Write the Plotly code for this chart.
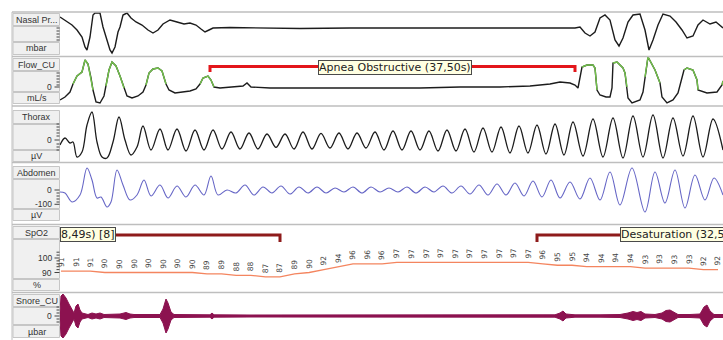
import plotly.graph_objects as go

# ================= data (time in s) =================
NASAL_T = [0.0, 0.3, 0.7, 1.2, 1.7, 2.2, 2.5, 2.7, 3.0, 3.3, 3.5, 4.0, 4.3, 4.7, 5.0, 5.2, 5.5, 5.8, 6.0, 6.3,
           6.7, 7.1, 7.6, 8.2, 8.8, 9.3, 9.8, 10.3, 11.0, 11.7, 12.4, 13.0, 13.6, 14.1, 14.5, 14.9, 15.3, 17.0, 20.0, 24.0,
           29.0, 34.0, 39.0, 44.0, 49.0, 51.5, 52.0, 52.5, 53.0, 53.5, 54.0, 54.5, 55.0, 55.5, 55.9, 56.3, 56.8, 57.3, 58.0, 58.5,
           58.9, 59.3, 59.8, 60.3, 61.0, 61.6, 62.2, 62.7, 63.3, 63.8, 64.3, 65.0, 65.6, 66.3]
NASAL_V = [1.1, 0.9, 0.6, 0.3, -0.2, -0.9, -1.9, -2.2, -0.9, 1.3, 1.5, 1.5, 0.1, -1.2, -2.2, -2.5, -1.9, -0.4, 0.1, 1.3,
           1.5, 1.0, 0.6, 0.3, -0.2, -0.5, -0.2, 0.4, 0.8, 0.6, 0.4, 0.5, 0.3, -0.1, -0.4, -0.2, 0.0, 0.05, 0.0, -0.05,
           0.0, 0.0, -0.05, 0.0, 0.0, 0.0, 0.1, -0.5, -0.8, -0.4, 1.0, 1.3, 0.8, -1.2, -1.8, -1.0, 0.6, 1.3, 1.4, -0.2,
           -2.2, -1.2, 0.3, 1.4, 1.2, 0.6, -0.2, -1.0, -0.8, 0.3, 0.8, 0.4, 0.6, 0.0]

FLOW_T = [0.0, 0.5, 1.0, 1.3, 1.7, 2.2, 2.5, 2.8, 3.1, 3.3, 3.6, 4.0, 4.4, 4.6, 4.9, 5.2, 5.6, 6.0, 6.4, 6.7,
          7.2, 7.8, 8.3, 8.6, 8.9, 9.3, 9.8, 10.2, 10.6, 10.9, 11.5, 12.2, 13.0, 13.6, 14.0, 14.3, 14.8, 15.1, 15.4, 16.0,
          17.5, 18.3, 18.7, 19.1, 21.0, 24.0, 28.0, 32.0, 36.0, 40.0, 44.0, 47.0, 49.0, 50.0, 51.0, 51.5, 51.8, 52.2, 52.7, 53.3,
          53.5, 53.7, 54.0, 54.6, 55.0, 55.2, 55.3, 55.7, 56.3, 56.5, 56.7, 56.8, 57.2, 58.0, 58.3, 58.5, 58.8, 59.5, 60.0, 60.2,
          60.7, 61.3, 61.8, 62.4, 62.7, 63.3, 63.7, 63.8, 64.7, 65.7, 66.2, 66.3]
FLOW_V = [-130, -100, -50, 30, 110, 150, 270, 230, 90, -30, -150, -160, -90, 10, 170, 250, 210, 110, -10, -90,
          -110, -90, -50, 20, 140, 180, 190, 160, 30, -30, -60, -50, -40, -20, 30, 90, 110, 70, 0, -10,
          0, 10, 40, 0, -10, -10, -10, -10, -10, 0, 0, 10, 30, 50, 40, 20, -10, 200, 220, 220,
          190, -30, -80, -100, -100, -10, 240, 250, 190, 140, 0, -110, -160, -130, -50, 100, 300, 170, 40, -100,
          -160, -130, -60, 170, 190, 170, 70, -30, -60, -50, 20, 60]
# inspiration intervals highlighted in green
FLOW_INSP = [(1.3, 3.3), (4.6, 6.4), (8.6, 10.6), (14.0, 15.4), (52.2, 53.7),
             (55.3, 56.7), (58.5, 60.0), (62.4, 63.8), (66.2, 66.3)]

THORAX_T = [0.0, 0.5, 1.0, 1.3, 1.7, 2.2, 2.7, 3.2, 3.7, 4.2, 4.7, 5.3, 5.9, 6.5, 7.1, 7.7, 8.3, 9.1, 10.0, 10.8,
            11.7, 12.6, 13.5, 14.4, 15.3, 16.2, 17.1, 18.0, 18.9, 19.8, 20.7, 21.6, 22.5, 23.4, 24.3, 25.2, 26.1, 27.0, 27.9, 28.8,
            29.7, 30.6, 31.5, 32.4, 33.3, 34.2, 35.1, 36.0, 36.9, 37.8, 38.7, 39.6, 40.5, 41.4, 42.3, 43.2, 44.1, 45.0, 45.9, 46.8,
            47.7, 48.6, 49.5, 50.4, 51.3, 52.3, 53.3, 54.3, 55.3, 56.3, 57.3, 58.3, 59.3, 60.3, 61.3, 62.3, 63.3, 64.3, 65.3, 66.3]
THORAX_V = [-15, 6, -9, -6, -51, -36, 45, 84, -6, -51, -54, -6, 69, 0, -45, -21, 42, -30, 33, -30,
            33, -33, 30, -30, 30, -27, 24, -27, 21, -27, 18, -22, 18, -27, 24, -27, 20, -24, 21, -27,
            21, -24, 24, -30, 27, -30, 27, -30, 27, -33, 30, -33, 33, -36, 36, -36, 39, -39, 42, -39,
            45, -42, 48, -45, 54, -48, 63, -51, 66, -54, 72, -51, 75, -54, 66, -48, 72, -51, 63, -30]

ABDOMEN_T = [0.0, 0.5, 1.2, 2.0, 2.7, 3.2, 3.7, 4.1, 4.7, 5.1, 5.7, 6.3, 7.0, 7.7, 8.4, 9.1, 10.0, 10.8, 11.7, 12.6,
             13.5, 14.4, 15.1, 15.8, 16.7, 17.6, 18.5, 19.4, 20.3, 21.2, 22.1, 23.0, 23.9, 24.8, 25.7, 26.6, 27.5, 28.4, 29.3, 30.2,
             31.1, 32.0, 32.9, 33.8, 34.7, 35.6, 36.5, 37.4, 38.3, 39.2, 40.1, 41.0, 41.9, 42.8, 43.7, 44.6, 45.5, 46.4, 47.3, 48.2,
             49.1, 50.0, 51.0, 52.0, 53.0, 54.0, 55.0, 56.0, 57.2, 58.5, 59.5, 60.5, 61.5, 62.5, 63.5, 64.5, 65.4, 66.3]
ABDOMEN_V = [-14, -21, -84, -35, 154, 70, -56, -49, -119, -84, 140, 35, -70, -35, 70, -42, 35, -56, 28, -49,
             35, -35, 98, -35, 0, -21, 35, -35, 21, -21, 28, -28, 21, -21, 21, -21, 14, -14, 21, -21,
             21, -14, 14, -14, 21, -21, 21, -14, 28, -21, 28, -28, 35, -35, 42, -35, 49, -42, 63, -49,
             70, -56, 56, -63, 84, -70, 126, -105, 154, -154, 126, -91, 140, -126, 105, -70, 84, -35]

SPO2_V = [91, 91, 91, 90, 90, 90, 90, 90, 90, 90, 89, 89, 88, 88, 87, 87, 89, 90, 92, 94, 96, 96, 96,
          97, 97, 97, 97, 97, 97, 97, 97, 97, 97, 96, 95, 95, 94, 94, 94, 94, 93, 93, 93, 93, 92, 92]
SPO2_T0 = 0.1
SPO2_DT = 1.46

SNORE_T = [0.0, 0.1, 0.3, 0.6, 0.9, 1.2, 1.4, 1.6, 1.8, 2.0, 2.2, 2.8, 3.2, 3.6, 4.0, 4.4, 5.0, 6.0, 6.6, 7.0,
           7.4, 8.0, 9.0, 10.0, 10.3, 10.6, 10.8, 11.1, 11.4, 13.0, 15.0, 15.2, 15.4, 19.0, 24.0, 34.0, 44.0, 49.5, 50.0, 50.3,
           50.6, 51.5, 54.0, 56.0, 56.8, 57.3, 57.7, 58.1, 58.5, 59.5, 60.2, 60.6, 61.0, 61.4, 61.8, 63.0, 64.0, 64.4, 64.7, 65.0,
           65.4, 66.3]
SNORE_AMP = [4, 20, 22, 18, 12, 6, 3, 10, 12, 6, 3, 1.5, 3, 2, 3, 1.5, 1.5, 2, 3.5, 2,
             1.5, 1.5, 1.5, 1.5, 7, 17, 13, 4, 1.5, 1.2, 1.2, 3, 1.2, 1, 1, 1, 1, 1.2, 3, 5,
             2, 1.2, 1.2, 1.5, 3, 4.5, 3.5, 4.5, 2, 1.5, 3, 5.5, 6, 4, 1.5, 1.5, 2, 9, 11, 5,
             1.5, 1.5]

APNEA_START, APNEA_END = 15.0, 51.5
APNEA_LABEL = "Apnea Obstructive (37,50s)"
DESAT_EVENTS = [(-2.0, 22.0, "8,49s) [8]"), (47.7, 70.0, "Desaturation (32,5")]

CHANNELS = ["Nasal Pr...", "Flow_CU", "Thorax", "Abdomen", "SpO2", "Snore_CU"]
UNITS = ["mbar", "mL/s", "µV", "µV", "%", "µbar"]
TICK_LABELS = [[], [(0, "0")], [(0, "0")], [(0, "0"), (-100, "-100")], [(100, "100"), (90, "90")], [(0, "0")]]
TICK_LADDER = [[-1.2, -0.9, -0.6, -0.3, 0.0],
               [20, 50, 80, 110, 140],
               [-30, -21, -12, 12, 21, 30, 39, 48],
               [-21, -42, -63, -84],
               [92, 94, 96, 98, 102, 104],
               [-6, -3, 3, 6, 9]]

# ================= layout geometry (pixels) =================
W, H = 723, 340
PLOT_X0 = 60
T_RANGE = [0, 66.3]
ROWS = [
    dict(top=12, bot=56, name=(13, 26), mid=(26, 42), unit=(42, 55), rng=[-2.8, 1.6]),
    dict(top=57, bot=105, name=(58, 71), mid=(71, 92), unit=(92, 104), rng=[-180, 300]),
    dict(top=107, bot=162, name=(110, 124), mid=(124, 150), unit=(150, 162), rng=[-66, 99]),
    dict(top=163, bot=224, name=(166, 179), mid=(179, 209), unit=(209, 221), rng=[-238, 189]),
    dict(top=225, bot=292, name=(226, 239), mid=(239, 279), unit=(279, 291), rng=[76.55, 122.76]),
    dict(top=293, bot=340, name=(294, 307), mid=(307, 325), unit=(325, 338), rng=[-24, 23]),
]
APNEA_LEVEL, APNEA_TICK = 205, 150
DESAT_LEVEL, DESAT_TICK = 115.9, 111.0
DESAT_LABEL_T = [0.0, 56.0]
LABEL_FONT = "Liberation Sans"
EVENT_FONT = "DejaVu Sans"


def pxx(p):
    return p / W


def pxy(p):
    return 1 - p / H


fig = go.Figure()
YREF = ["y", "y2", "y3", "y4", "y5", "y6"]

for k, r in enumerate(ROWS):
    key = "yaxis" if k == 0 else f"yaxis{k + 1}"
    fig.layout[key] = dict(domain=[pxy(r["bot"]), pxy(r["top"])], range=r["rng"],
                           visible=False, anchor="x", fixedrange=True)
fig.layout.xaxis = dict(domain=[pxx(PLOT_X0), 1], range=T_RANGE, visible=False, anchor="y", fixedrange=True)

BLACK = "#1c1c1c"
# Nasal pressure
fig.add_trace(go.Scatter(x=NASAL_T, y=NASAL_V, mode="lines", yaxis="y",
                         line=dict(color=BLACK, width=1.4)))
# Flow: black base + green inspirations
fig.add_trace(go.Scatter(x=FLOW_T, y=FLOW_V, mode="lines", yaxis="y2",
                         line=dict(color=BLACK, width=1.4)))
green = [v if any(a <= t <= b for a, b in FLOW_INSP) else None for t, v in zip(FLOW_T, FLOW_V)]
fig.add_trace(go.Scatter(x=FLOW_T, y=green, mode="lines", yaxis="y2", connectgaps=False,
                         line=dict(color="#72C24A", width=1.4)))
# Apnea event bar
fig.add_trace(go.Scatter(x=[APNEA_START, APNEA_START, APNEA_END, APNEA_END],
                         y=[APNEA_TICK, APNEA_LEVEL, APNEA_LEVEL, APNEA_TICK], mode="lines", yaxis="y2",
                         line=dict(color="#E3161B", width=3)))
# Thorax
fig.add_trace(go.Scatter(x=THORAX_T, y=THORAX_V, mode="lines", yaxis="y3",
                         line=dict(color=BLACK, width=1.3, shape="spline", smoothing=1.0)))
# Abdomen
fig.add_trace(go.Scatter(x=ABDOMEN_T, y=ABDOMEN_V, mode="lines", yaxis="y4",
                         line=dict(color="#6666C6", width=1.1, shape="spline", smoothing=1.0)))
# SpO2
spo2_t = [SPO2_T0 + i * SPO2_DT for i in range(len(SPO2_V))]
fig.add_trace(go.Scatter(x=spo2_t, y=SPO2_V, mode="lines", yaxis="y5",
                         line=dict(color="#F4855F", width=1.3)))
for s, e, lab in DESAT_EVENTS:
    xs, ys = [], []
    if s >= T_RANGE[0]:
        xs += [s]
        ys += [DESAT_TICK]
    xs += [s, e]
    ys += [DESAT_LEVEL, DESAT_LEVEL]
    if e <= T_RANGE[1]:
        xs += [e]
        ys += [DESAT_TICK]
    fig.add_trace(go.Scatter(x=xs, y=ys, mode="lines", yaxis="y5",
                             line=dict(color="#8E1B1B", width=3)))
# Snore envelope
SNORE_C = "#8C1250"
fig.add_trace(go.Scatter(x=SNORE_T, y=SNORE_AMP, mode="lines", yaxis="y6",
                         line=dict(color=SNORE_C, width=1)))
fig.add_trace(go.Scatter(x=SNORE_T, y=[-a for a in SNORE_AMP], mode="lines", yaxis="y6",
                         fill="tonexty", fillcolor=SNORE_C, line=dict(color=SNORE_C, width=1)))

shapes = []
ann = []
SEP = "#BEBEBE"
# top line, left edge, row separators
shapes.append(dict(type="line", xref="paper", yref="paper", x0=pxx(12), x1=1, y0=pxy(12), y1=pxy(12),
                   line=dict(color=SEP, width=1.5)))
shapes.append(dict(type="line", xref="paper", yref="paper", x0=pxx(12), x1=pxx(12), y0=pxy(12), y1=0,
                   line=dict(color=SEP, width=1)))
for k, r in enumerate(ROWS):
    if k < len(ROWS) - 1:
        yb = (r["bot"] + ROWS[k + 1]["top"]) / 2
        shapes.append(dict(type="line", xref="paper", yref="paper", x0=pxx(12), x1=1, y0=pxy(yb), y1=pxy(yb),
                           line=dict(color=SEP, width=1.5)))
    for part in ("name", "mid", "unit"):
        a, b = r[part]
        shapes.append(dict(type="rect", xref="paper", yref="paper", x0=pxx(13), x1=pxx(59.5),
                           y0=pxy(b - 0.5), y1=pxy(a + 0.5), fillcolor="#F0F0F0",
                           line=dict(color="#C6C6C6", width=1)))
    ann.append(dict(xref="paper", yref="paper", x=pxx(36.5), y=pxy(sum(r["name"]) / 2), text=CHANNELS[k],
                    xanchor="center", yanchor="middle",
                    showarrow=False, font=dict(family=LABEL_FONT, size=9, color="#333333")))
    ann.append(dict(xref="paper", yref="paper", x=pxx(36.5), y=pxy(sum(r["unit"]) / 2), text=UNITS[k],
                    xanchor="center", yanchor="middle",
                    showarrow=False, font=dict(family=LABEL_FONT, size=9, color="#333333")))
    for v in TICK_LADDER[k]:
        shapes.append(dict(type="line", xref="paper", yref=YREF[k], x0=pxx(56.5), x1=pxx(59.5), y0=v, y1=v,
                           line=dict(color="#444444", width=1)))
    for v, txt in TICK_LABELS[k]:
        shapes.append(dict(type="line", xref="paper", yref=YREF[k], x0=pxx(54.5), x1=pxx(59.5), y0=v, y1=v,
                           line=dict(color="#444444", width=1)))
        ann.append(dict(xref="paper", yref=YREF[k], x=pxx(54), y=v, text=txt, xanchor="right",
                        yanchor="middle",
                        showarrow=False, font=dict(family=LABEL_FONT, size=8.5, color="#333333")))

# event labels
ann.append(dict(xref="x", yref="y2", x=(APNEA_START + APNEA_END) / 2 + 0.2, y=APNEA_LEVEL - 10,
                xanchor="center", yanchor="middle",
                text=APNEA_LABEL, showarrow=False, bgcolor="#FFFFE1", bordercolor="#4a4a4a",
                borderwidth=1, borderpad=0, font=dict(family=EVENT_FONT, size=11, color="#222222")))
for (s, e, lab), lt in zip(DESAT_EVENTS, DESAT_LABEL_T):
    ann.append(dict(xref="x", yref="y5", x=lt, y=DESAT_LEVEL, text=lab, xanchor="left", yanchor="middle",
                    showarrow=False, bgcolor="#FFFFE1", bordercolor="#4a4a4a",
                    borderwidth=1, borderpad=0, font=dict(family=EVENT_FONT, size=11, color="#222222")))
# SpO2 sample values
for t, v in zip(spo2_t, SPO2_V):
    ann.append(dict(xref="x", yref="y5", x=t, y=v, text=str(v), textangle=-90, xanchor="center",
                    yanchor="bottom", yshift=2, showarrow=False,
                    font=dict(family=EVENT_FONT, size=7.5, color="#444444")))

fig.update_layout(width=W, height=H, autosize=False, margin=dict(l=0, r=0, t=0, b=0),
                  paper_bgcolor="white", plot_bgcolor="white", showlegend=False,
                  shapes=shapes, annotations=ann, hovermode=False)
fig.write_html("out.html")
